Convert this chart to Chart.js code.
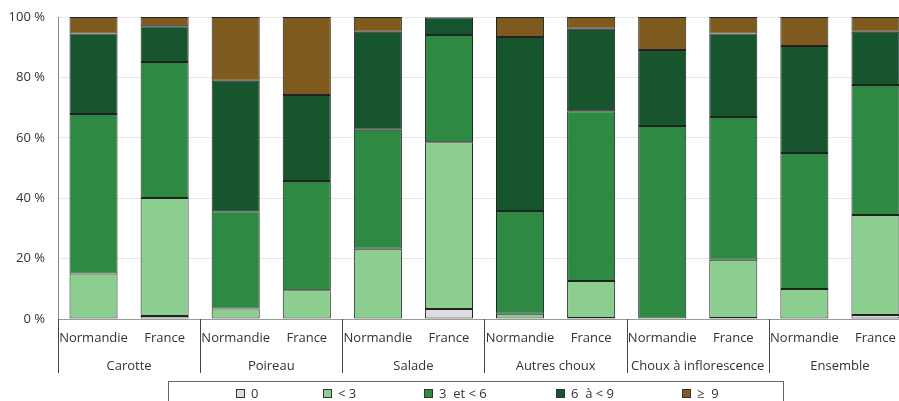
<!DOCTYPE html>
<html>
<head>
<meta charset="utf-8">
<script src="https://cdn.jsdelivr.net/npm/chart.js@4/dist/chart.umd.min.js"></script>
<style>
  html, body { margin: 0; padding: 0; background: #fff; overflow: hidden; }
  #wrap { position: relative; width: 899px; height: 401px; overflow: hidden; }
  #c { position: absolute; left: 0; top: 0; }
  #legend {
    position: absolute; left: 168px; top: 381px; width: 614px; height: 40px;
    border: 1px solid #666; box-sizing: content-box;
    font-family: "Open Sans", sans-serif; font-size: 13px; color: #333;
  }
  .item { position: absolute; top: 4px; display: inline-flex; align-items: center; white-space: pre; line-height: 15px; }
  .sw { width: 7px; height: 7px; border: 1px solid #333; margin-right: 6px; display: inline-block; }
</style>
</head>
<body>
<div id="wrap">
  <canvas id="c" width="911" height="401"></canvas>
  <div id="legend"></div>
</div>
<script>
const categories = ['Carotte', 'Poireau', 'Salade', 'Autres choux', 'Choux à inflorescence', 'Ensemble'];
const regions = ['Normandie', 'France'];
const seriesNames = ['0', '< 3', '3  et < 6', '6  à < 9', '≥  9'];
const seriesColors = ['#dcdddf', '#8cce90', '#2e8942', '#16552d', '#7f5a1e'];
const yTicks = [0, 20, 40, 60, 80, 100];

// values in %, order: Carotte N, Carotte F, Poireau N, Poireau F, Salade N, Salade F,
// Autres choux N, F, Choux à infl. N, F, Ensemble N, F
const s0 = [0, 1.0, 0, 0, 0, 3.3, 0, 0.3, 0, 0.3, 0, 1.3];
const s1 = [15.1, 39.1, 3.5, 9.5, 23.3, 55.2, 1.7, 12.3, 0, 19.3, 9.9, 33.1];
const s2 = [52.8, 45.0, 32.2, 36.2, 39.4, 35.5, 34.1, 56.2, 63.9, 47.3, 45.1, 43.1];
const s3 = [26.6, 11.8, 43.2, 28.5, 32.4, 5.8, 57.6, 27.3, 25.2, 27.6, 35.4, 17.6];
const s4 = [5.5, 3.1, 21.1, 25.8, 4.9, 0.2, 6.6, 3.9, 10.9, 5.5, 9.6, 4.9];
const seriesValues = [s0, s1, s2, s3, s4];

// legend item left offsets inside the legend box (layout only)
const legendLeft = [67, 154, 255, 387, 513];

const labels = categories.flatMap(() => regions);

const FONT = '"Open Sans", sans-serif';
const TEXT = '#333333';

const groupPlugin = {
  id: 'groups',
  afterDraw(chart) {
    const x = chart.scales.x;
    const ctx = chart.ctx;
    const n = regions.length;
    const w = x.getPixelForValue(1) - x.getPixelForValue(0);
    ctx.save();
    ctx.strokeStyle = '#444';
    ctx.lineWidth = 1;
    ctx.font = '13px ' + FONT;
    ctx.fillStyle = TEXT;
    ctx.textAlign = 'center';
    ctx.textBaseline = 'middle';
    for (let g = 0; g < categories.length; g++) {
      const left = x.getPixelForValue(g * n) - w / 2;
      const px = Math.round(left) + 0.5;
      ctx.beginPath();
      ctx.moveTo(px, x.top);
      ctx.lineTo(px, x.top + 54);
      ctx.stroke();
      ctx.fillText(categories[g], left + n * w / 2, x.top + 47);
    }
    ctx.restore();
  }
};

new Chart(document.getElementById('c'), {
  type: 'bar',
  data: {
    labels: labels,
    datasets: seriesNames.map((name, i) => ({
      label: name,
      data: seriesValues[i],
      backgroundColor: seriesColors[i],
      borderColor: '#222',
      borderWidth: 1,
      borderSkipped: false,
      barPercentage: 0.676,
      categoryPercentage: 1
    }))
  },
  options: {
    responsive: false,
    animation: false,
    layout: { padding: { top: 17, left: 0, right: 0, bottom: 0 } },
    plugins: { legend: { display: false }, tooltip: { enabled: false } },
    scales: {
      x: {
        stacked: true,
        grid: { display: false, drawTicks: false },
        border: { color: '#999', width: 1 },
        ticks: { color: TEXT, font: { family: FONT, size: 13 }, padding: 11, maxRotation: 0, autoSkip: false },
        afterFit(scale) { scale.height = 82; scale.paddingLeft = 0; scale.paddingRight = 0; }
      },
      y: {
        stacked: true,
        min: 0, max: 100,
        afterBuildTicks(scale) { scale.ticks = yTicks.map(v => ({ value: v })); },
        grid: { color: '#e6e6e6', drawTicks: false },
        border: { color: '#888', width: 1 },
        ticks: { color: TEXT, font: { family: FONT, size: 13 }, padding: 13, callback: v => v + ' %' },
        afterFit(scale) { scale.width = 58; scale.paddingTop = 0; scale.paddingBottom = 0; }
      }
    }
  },
  plugins: [groupPlugin]
});

const legend = document.getElementById('legend');
seriesNames.forEach((name, i) => {
  const it = document.createElement('span');
  it.className = 'item';
  it.style.left = legendLeft[i] + 'px';
  const sw = document.createElement('span');
  sw.className = 'sw';
  sw.style.background = seriesColors[i];
  it.appendChild(sw);
  it.appendChild(document.createTextNode(name));
  legend.appendChild(it);
});
</script>
</body>
</html>
